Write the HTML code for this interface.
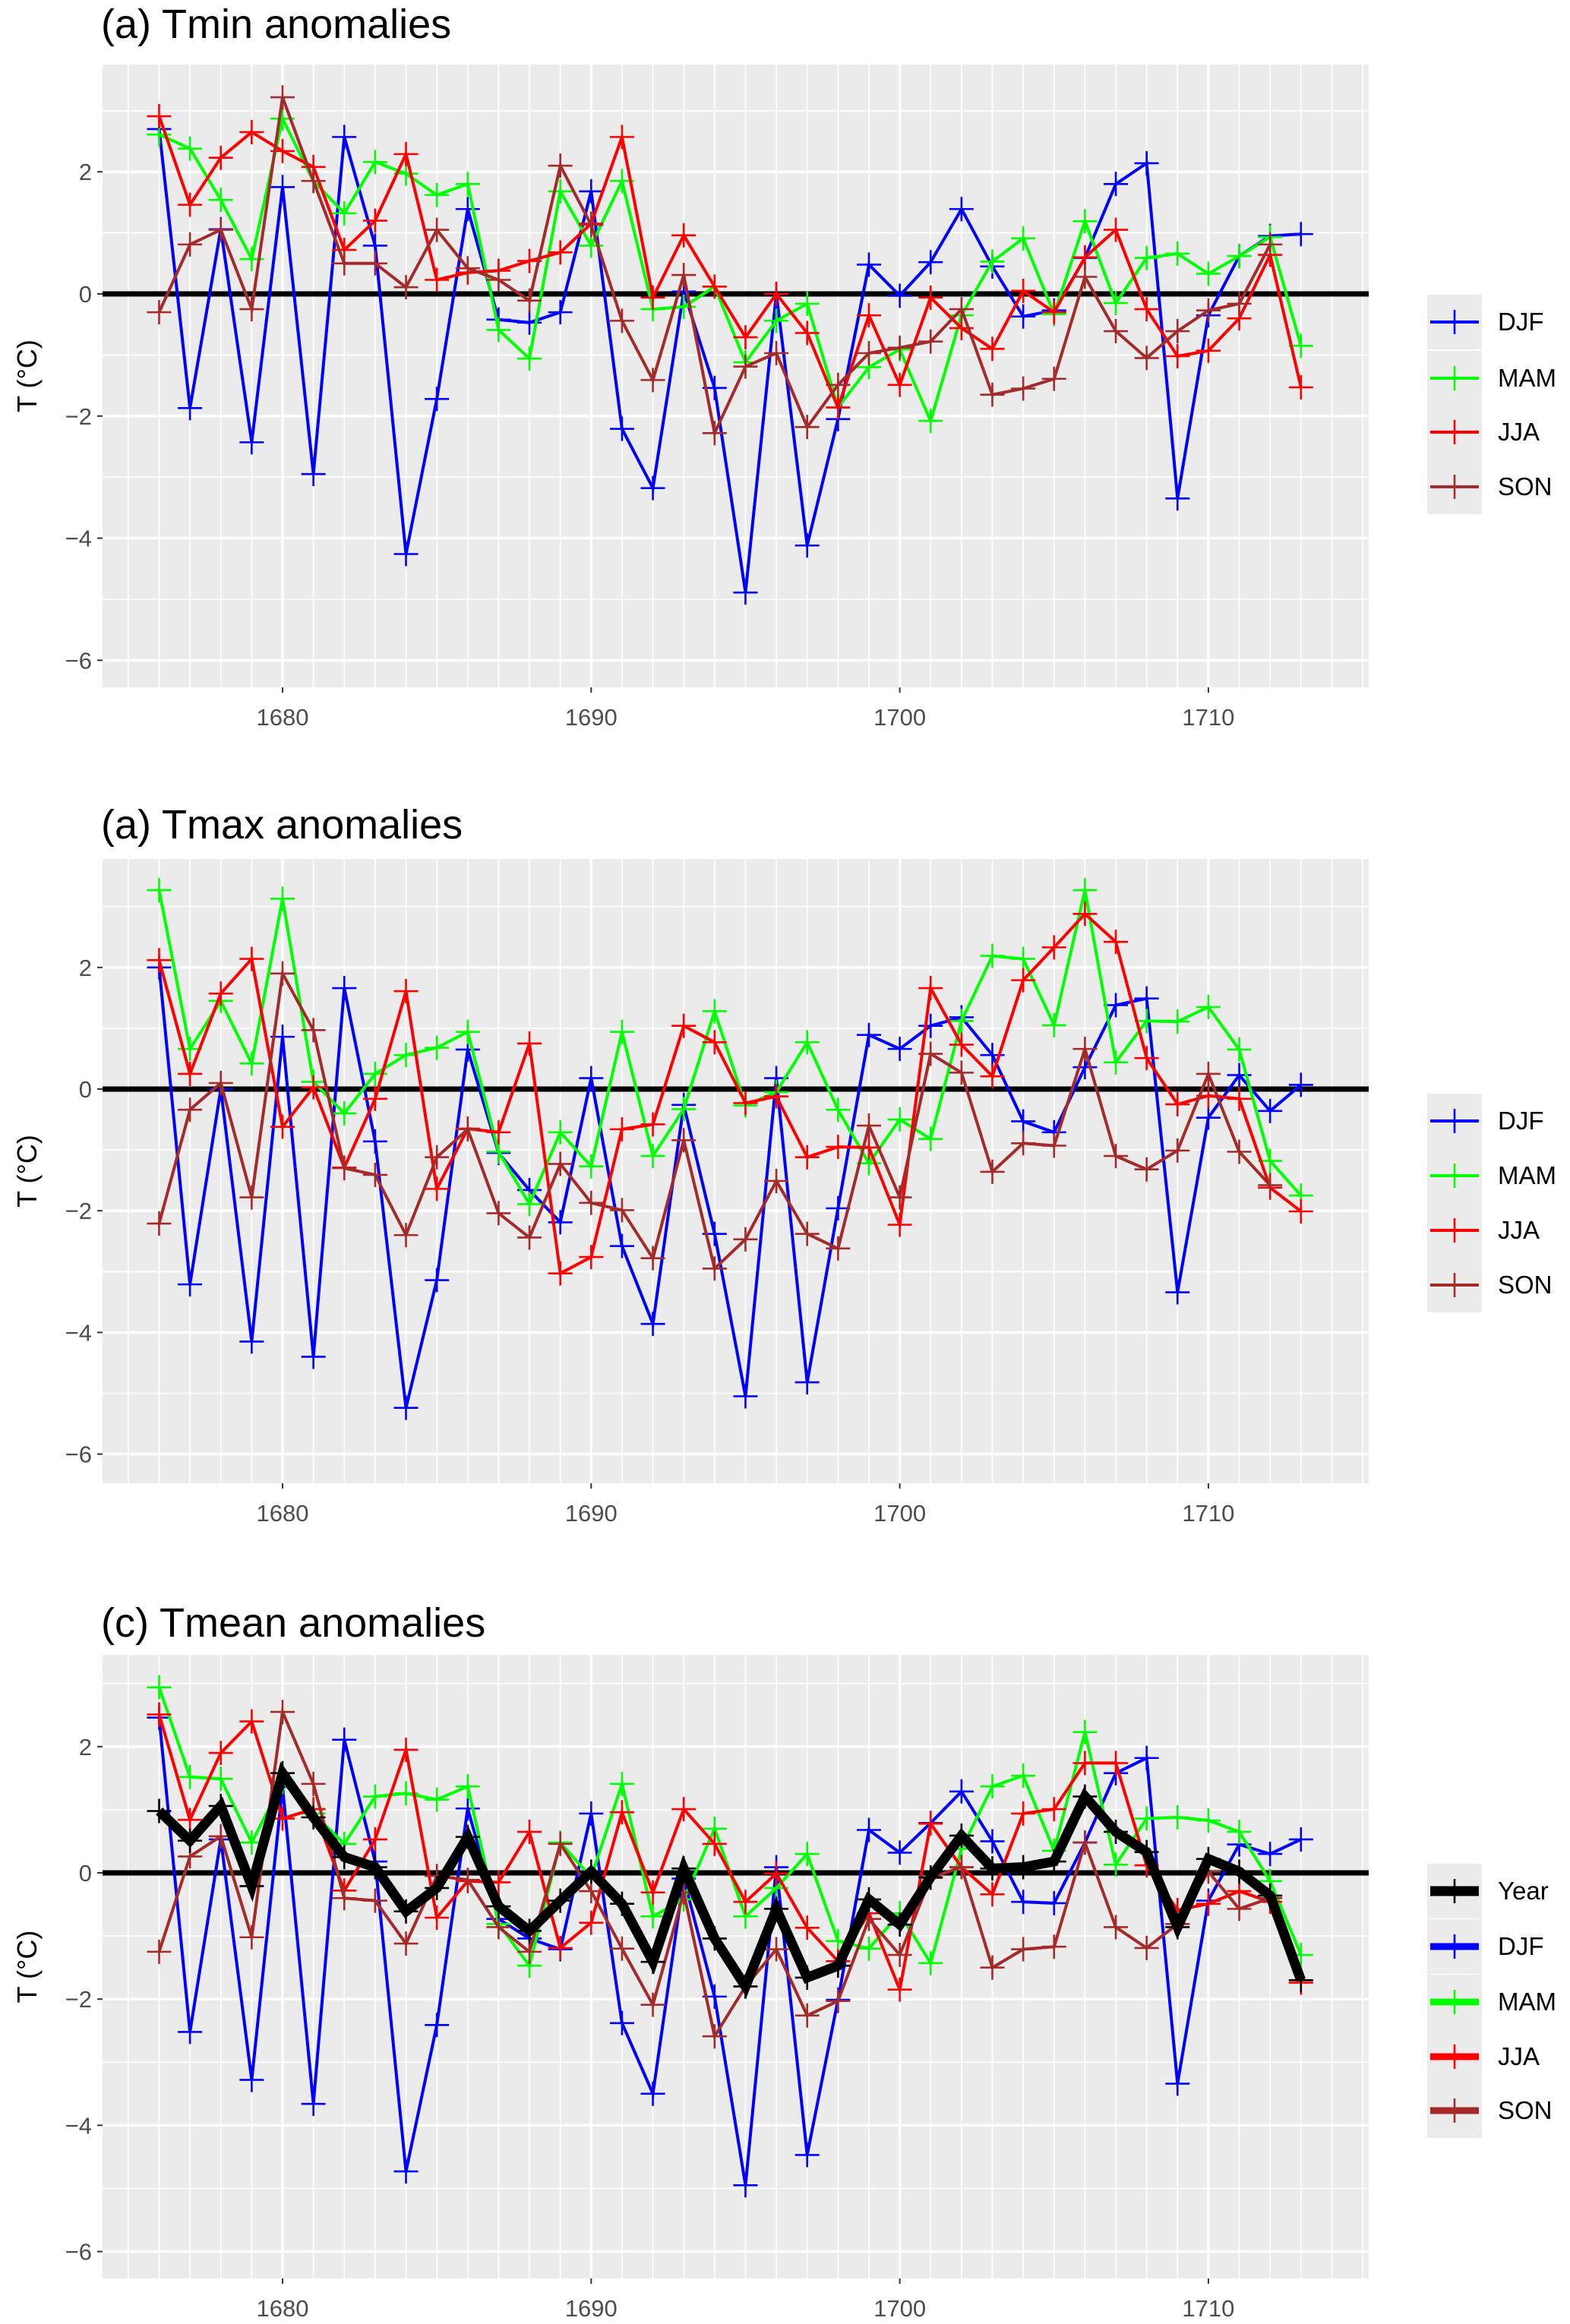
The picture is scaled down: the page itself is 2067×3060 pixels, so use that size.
<!DOCTYPE html>
<html><head><meta charset="utf-8">
<style>
html,body{margin:0;padding:0;background:#fff;}
svg{display:block;font-family:"Liberation Sans",Arial,sans-serif;}
</style></head>
<body>
<svg id="chart" width="2067" height="3060" viewBox="0 0 2067 3060" xmlns="http://www.w3.org/2000/svg"></svg>
<script>
const years = [];
for (let y = 1676; y <= 1713; y++) years.push(y);
const yTicks = [2, 0, -2, -4, -6];
const xTicks = [1680, 1690, 1700, 1710];

const tminDJF = [2.7,-1.87,1.06,-2.43,1.75,-2.95,2.57,0.79,-4.26,-1.72,1.39,-0.42,-0.47,-0.3,1.68,-2.21,-3.18,0.04,-1.54,-4.89,0.0,-4.12,-2.05,0.48,-0.03,0.52,1.39,0.45,-0.37,-0.27,0.59,1.8,2.14,-3.35,-0.35,0.62,0.95,0.98];
const tminMAM = [2.61,2.38,1.54,0.57,2.87,1.85,1.32,2.16,1.97,1.62,1.8,-0.59,-1.06,1.68,0.79,1.85,-0.25,-0.21,0.12,-1.12,-0.44,-0.16,-1.86,-1.2,-0.91,-2.08,-0.35,0.53,0.91,-0.33,1.19,-0.15,0.59,0.66,0.33,0.62,0.93,-0.85];
const tminJJA = [2.91,1.46,2.23,2.65,2.34,2.08,0.72,1.2,2.29,0.23,0.35,0.38,0.54,0.68,1.15,2.57,-0.06,0.96,0.12,-0.71,0.0,-0.64,-1.86,-0.35,-1.49,-0.06,-0.56,-0.9,0.05,-0.3,0.6,1.05,-0.25,-1.02,-0.93,-0.4,0.64,-1.53];
const tminSON = [-0.3,0.81,1.05,-0.25,3.22,1.85,0.5,0.5,0.11,1.05,0.42,0.23,-0.11,2.1,1.13,-0.44,-1.41,0.31,-2.28,-1.19,-0.97,-2.18,-1.49,-0.97,-0.88,-0.78,-0.25,-1.65,-1.55,-1.39,0.28,-0.61,-1.05,-0.61,-0.27,-0.16,0.81,null];

const tmaxDJF = [2.0,-3.21,0.0,-4.15,0.86,-4.4,1.66,-0.86,-5.24,-3.14,0.65,-1.05,-1.66,-2.19,0.18,-2.58,-3.86,-0.26,-2.38,-5.05,0.18,-4.82,-1.96,0.89,0.66,1.04,1.18,0.56,-0.53,-0.71,0.36,1.38,1.49,-3.34,-0.47,0.23,-0.36,0.07];
const tmaxMAM = [3.27,0.66,1.45,0.42,3.13,0.12,-0.4,0.25,0.56,0.68,0.94,-1.03,-1.89,-0.71,-1.27,0.94,-1.1,-0.33,1.28,-0.27,-0.05,0.77,-0.34,-1.22,-0.5,-0.82,1.12,2.19,2.14,1.05,3.27,0.44,1.12,1.11,1.35,0.65,-1.18,-1.75];
const tmaxJJA = [2.12,0.25,1.57,2.14,-0.62,0.03,-1.29,-0.16,1.61,-1.64,-0.65,-0.71,0.75,-3.03,-2.76,-0.66,-0.58,1.04,0.77,-0.23,-0.12,-1.12,-0.95,-0.96,-2.23,1.66,0.73,0.21,1.79,2.33,2.88,2.42,0.51,-0.25,-0.11,-0.16,-1.62,-2.01];
const tmaxSON = [-2.21,-0.34,0.1,-1.78,1.9,0.97,-1.3,-1.41,-2.4,-1.12,-0.66,-2.04,-2.44,-1.23,-1.87,-1.99,-2.78,-0.84,-2.95,-2.47,-1.51,-2.38,-2.62,-0.6,-1.78,0.58,0.27,-1.36,-0.89,-0.93,0.66,-1.1,-1.32,-1.01,0.25,-1.03,-1.58,null];

const tmeanYear = [0.98,0.51,1.06,-0.21,1.58,0.88,0.25,0.09,-0.61,-0.24,0.57,-0.53,-0.92,-0.44,0.02,-0.49,-1.41,0.07,-1.04,-1.8,-0.57,-1.66,-1.47,-0.42,-0.82,-0.07,0.59,0.07,0.09,0.18,1.21,0.65,0.33,-0.86,0.22,0.02,-0.36,-1.7];
const tmeanDJF = [2.46,-2.52,0.53,-3.28,1.36,-3.66,2.11,0.18,-4.73,-2.41,1.02,-0.73,-1.04,-1.21,0.94,-2.38,-3.5,-0.09,-1.96,-4.95,0.09,-4.47,-2.01,0.68,0.32,0.79,1.29,0.5,-0.46,-0.48,0.48,1.58,1.82,-3.34,-0.44,0.45,0.3,0.53];
const tmeanMAM = [2.94,1.52,1.49,0.48,1.44,0.94,0.46,1.21,1.26,1.16,1.37,-0.81,-1.47,0.48,-0.07,1.41,-0.69,-0.42,0.7,-0.69,-0.24,0.3,-1.08,-1.2,-0.64,-1.43,0.38,1.37,1.54,0.35,2.23,0.13,0.86,0.88,0.83,0.65,-0.13,-1.3];
const tmeanJJA = [2.51,0.84,1.9,2.4,0.86,1.01,-0.28,0.53,1.95,-0.71,-0.13,-0.15,0.65,-1.19,-0.79,0.96,-0.31,1.01,0.46,-0.46,-0.01,-0.87,-1.4,-0.64,-1.85,0.78,0.09,-0.34,0.94,1.01,1.74,1.74,0.12,-0.59,-0.49,-0.29,-0.46,-1.74];
const tmeanSON = [-1.25,0.26,0.58,-1.02,2.55,1.41,-0.4,-0.44,-1.12,-0.05,-0.11,-0.86,-1.25,0.46,-0.29,-1.2,-2.09,-0.31,-2.59,-1.8,-1.21,-2.26,-2.03,-0.73,-1.3,-0.08,0.09,-1.5,-1.21,-1.17,0.48,-0.86,-1.19,-0.81,0.02,-0.57,-0.4,null];

const NS = 'http://www.w3.org/2000/svg';
const svg = document.getElementById('chart');
function mk(tag, attrs, parent){
  const e = document.createElementNS(NS, tag);
  for (const k in attrs) e.setAttribute(k, attrs[k]);
  (parent || svg).appendChild(e);
  return e;
}
const COL = {DJF:'#0000ff', MAM:'#00ff00', JJA:'#ff0000', SON:'#a52a2a', Year:'#000000'};

const panels = [
  {id:'tmin', title:'(a) Tmin anomalies', top:85, bottom:905, zeroY:387, perUnit:80.4, titleY:50, xlabY:955,
   series:[['DJF',tminDJF],['MAM',tminMAM],['JJA',tminJJA],['SON',tminSON]], legY:[424,498,569,641], thick:false},
  {id:'tmax', title:'(a) Tmax anomalies', top:1131, bottom:1953, zeroY:1434, perUnit:80.1, titleY:1104, xlabY:2003,
   series:[['DJF',tmaxDJF],['MAM',tmaxMAM],['JJA',tmaxJJA],['SON',tmaxSON]], legY:[1476,1548,1620,1692], thick:false},
  {id:'tmean', title:'(c) Tmean anomalies', top:2179, bottom:3000, zeroY:2466, perUnit:83.1, titleY:2155, xlabY:3050,
   series:[['DJF',tmeanDJF],['MAM',tmeanMAM],['JJA',tmeanJJA],['SON',tmeanSON],['Year',tmeanYear]], legY:[2490,2563,2636,2708,2779], thick:true}
];
const L = 135, R = 1802;
function xs(yr){ return 372 + (yr - 1680) * 40.63; }

panels.forEach(p => {
  const g = mk('g', {});
  
  
  const ys = v => p.zeroY - v * p.perUnit;
  const bg = mk('rect', {x:L, y:p.top, width:R-L, height:p.bottom-p.top, fill:'#ebebeb'}, g);
  
  
  for (let v = -7; v <= 3; v += 2) {
    const y = ys(v);
    if (y > p.top && y < p.bottom) mk('line', {x1:L, x2:R, y1:y, y2:y, stroke:'#fff', 'stroke-width':1.6}, g);
  }
  for (let yr = 1675; yr <= 1715; yr++) {
    const x = xs(yr);
    if (x > L && x < R) mk('line', {x1:x, x2:x, y1:p.top, y2:p.bottom, stroke:'#fff', 'stroke-width': yr % 10 === 0 ? 3.4 : 1.6}, g);
  }
  yTicks.forEach(v => {
    const y = ys(v);
    mk('line', {x1:L, x2:R, y1:y, y2:y, stroke:'#fff', 'stroke-width':3.4}, g);
    mk('line', {x1:L-7, x2:L, y1:y, y2:y, stroke:'#333', 'stroke-width':2}, g);
    const t = mk('text', {x:L-14, y:y+11, 'text-anchor':'end', 'font-size':31, fill:'#4d4d4d'}, g);
    t.textContent = (v < 0 ? '\u2212' + (-v) : '' + v);
    
    
  });
  xTicks.forEach(yr => {
    const x = xs(yr);
    mk('line', {x1:x, x2:x, y1:p.bottom, y2:p.bottom+7, stroke:'#333', 'stroke-width':2}, g);
    const t = mk('text', {x:x, y:p.xlabY, 'text-anchor':'middle', 'font-size':31, fill:'#4d4d4d'}, g);
    t.textContent = yr;
    
    
  });
  const z = mk('line', {x1:L, x2:R, y1:ys(0), y2:ys(0), stroke:'#000', 'stroke-width':7}, g);
  
  
  p.series.forEach(([name, vals]) => {
    const sg = mk('g', {}, g);
    
    
    const isYear = name === 'Year';
    let d = '';
    vals.forEach((v, i) => { if (v === null) return; d += (d ? 'L' : 'M') + xs(years[i]).toFixed(1) + ',' + ys(v).toFixed(1); });
    const path = mk('path', {d:d, fill:'none', stroke:COL[name], 'stroke-width': isYear ? 13 : 4, 'stroke-linejoin':'miter'}, sg);
    
    
    vals.forEach((v, i) => {
      if (v === null) return;
      const x = xs(years[i]), y = ys(v);
      const c = mk('path', {d:`M${x-16},${y}H${x+16}M${x},${y-16}V${y+16}`, stroke:COL[name], 'stroke-width':2.6, fill:'none'}, sg);
      
      
    });
  });
  const tt = mk('text', {x:133, y:p.titleY, 'font-size':54, fill:'#000'}, g);
  tt.textContent = p.title;
  
  
  const ymid = (p.top + p.bottom) / 2;
  const yt = mk('text', {x:0, y:0, 'font-size':36, fill:'#000', 'text-anchor':'middle', transform:`translate(48,${ymid}) rotate(-90)`}, g);
  yt.textContent = 'T (\u00B0C)';
  
  
  const order = p.thick ? ['Year','DJF','MAM','JJA','SON'] : ['DJF','MAM','JJA','SON'];
  order.forEach((name, i) => {
    const ly = p.legY[i];
    const lg = mk('g', {}, g);
    
    
    mk('rect', {x:1879, y:ly-36, width:72, height:72, fill:'#ebebeb'}, lg);
    mk('line', {x1:1883, x2:1947, y1:ly, y2:ly, stroke:COL[name], 'stroke-width': p.thick ? (name==='Year'?13:9) : 4}, lg);
    mk('path', {d:`M1899,${ly}H1931M1915,${ly-16}V${ly+16}`, stroke:COL[name], 'stroke-width':2.6}, lg);
    const t = mk('text', {x:1972, y:ly+11, 'font-size':33, fill:'#000'}, lg);
    t.textContent = name;
  });
});
</script>
</body></html>
